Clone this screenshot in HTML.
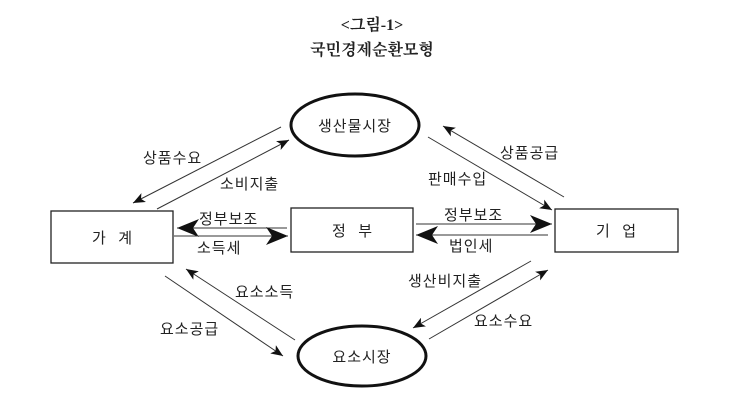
<!DOCTYPE html>
<html><head><meta charset="utf-8"><style>
html,body{margin:0;padding:0;background:#fff;}
svg{display:block;}
text{font-family:"Liberation Sans","Noto Sans CJK KR",sans-serif;fill:#222;}
</style></head><body>
<svg width="743" height="414" viewBox="0 0 743 414" xmlns="http://www.w3.org/2000/svg">
<defs>
<marker id="a" viewBox="0 0 12 10" refX="12" refY="5" markerWidth="12" markerHeight="10" markerUnits="userSpaceOnUse" orient="auto">
<path d="M0,0 L12,5 L0,10 L3,5 Z" fill="#111"/></marker>
<marker id="b" viewBox="0 0 22 18" refX="22" refY="9" markerWidth="22" markerHeight="18" markerUnits="userSpaceOnUse" orient="auto">
<path d="M0,0 L22,9 L0,18 L6,9 Z" fill="#111"/></marker>
</defs>
<text x="372" y="30" font-size="16" font-weight="bold" text-anchor="middle" style="font-family:'Liberation Serif','Noto Serif CJK SC',serif">&lt;그림-1&gt;</text>
<text x="372" y="55" font-size="16" font-weight="bold" text-anchor="middle" style="font-family:'Liberation Serif','Noto Serif CJK SC',serif">국민경제순환모형</text>

<rect x="51" y="211" width="122" height="52" fill="none" stroke="#222" stroke-width="1.3"/>
<rect x="291" y="208" width="122" height="44" fill="none" stroke="#222" stroke-width="1.3"/>
<rect x="555" y="209" width="123" height="43" fill="none" stroke="#222" stroke-width="1.3"/>
<text x="112" y="243" font-size="15" text-anchor="middle">가&#160;&#160;&#160;계</text>
<text x="352" y="236" font-size="15" text-anchor="middle">정&#160;&#160;&#160;부</text>
<text x="616" y="236" font-size="15" text-anchor="middle">기&#160;&#160;&#160;업</text>

<ellipse cx="355" cy="125" rx="64" ry="31" fill="none" stroke="#111" stroke-width="3"/>
<ellipse cx="362" cy="356" rx="64" ry="30" fill="none" stroke="#111" stroke-width="3"/>
<text x="355" y="131" font-size="15" text-anchor="middle" letter-spacing="1">생산물시장</text>
<text x="362" y="362" font-size="15" text-anchor="middle" letter-spacing="1">요소시장</text>

<g stroke="#333" stroke-width="1" fill="none">
<line x1="281" y1="127" x2="133" y2="203" marker-end="url(#a)"/>
<line x1="157" y1="209" x2="289" y2="140" marker-end="url(#a)"/>
<line x1="564" y1="197" x2="443" y2="126" marker-end="url(#a)"/>
<line x1="428" y1="137" x2="552" y2="210" marker-end="url(#a)"/>
<line x1="295" y1="340" x2="186" y2="269" marker-end="url(#a)"/>
<line x1="165" y1="276" x2="283" y2="356" marker-end="url(#a)"/>
<line x1="531" y1="261" x2="413" y2="328" marker-end="url(#a)"/>
<line x1="429" y1="339" x2="548" y2="270" marker-end="url(#a)"/>
<line x1="287" y1="228" x2="177" y2="228" marker-end="url(#b)"/>
<line x1="174" y1="236" x2="288" y2="236" marker-end="url(#b)"/>
<line x1="416" y1="224" x2="552" y2="224" marker-end="url(#b)"/>
<line x1="548" y1="235" x2="416" y2="235" marker-end="url(#b)"/>
</g>

<g font-size="15" letter-spacing="1">
<text x="143" y="163">상품수요</text>
<text x="220" y="189">소비지출</text>
<text x="500" y="158">상품공급</text>
<text x="428" y="184">판매수입</text>
<text x="199" y="224">정부보조</text>
<text x="197" y="253">소득세</text>
<text x="444" y="220">정부보조</text>
<text x="449" y="251">법인세</text>
<text x="235" y="297">요소소득</text>
<text x="160" y="334">요소공급</text>
<text x="408" y="286">생산비지출</text>
<text x="474" y="326">요소수요</text>
</g>
</svg>
</body></html>
